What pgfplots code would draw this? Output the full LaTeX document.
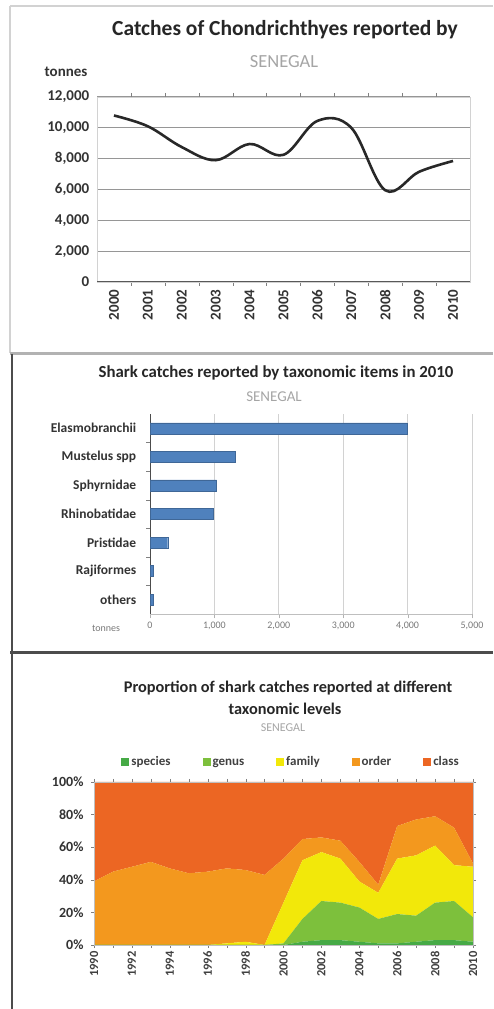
\documentclass[border=0pt]{standalone}
\usepackage{pgfplots}
\usepackage{pgfplotstable}
\pgfplotsset{compat=1.18}
\usepackage{fontspec}
\setmainfont{Carlito}
\definecolor{linec}{RGB}{40,40,40}
\definecolor{gridc}{RGB}{150,150,150}
\definecolor{barc}{RGB}{79,129,189}
\definecolor{cspecies}{RGB}{70,170,70}
\definecolor{cgenus}{RGB}{125,192,60}
\definecolor{cfamily}{RGB}{242,232,10}
\definecolor{corder}{RGB}{243,152,30}
\definecolor{cclass}{RGB}{236,102,35}
\definecolor{sengray}{RGB}{165,165,165}
\definecolor{tickgray}{RGB}{120,120,120}

\pgfplotstableread{
year val
2000 10800
2001 10100
2002 8750
2003 7900
2004 8950
2005 8250
2006 10450
2007 10000
2008 5950
2009 7150
2010 7850
}\catches

\pgfplotstableread{
idx val
0 3990
1 1320
2 1035
3 985
4 275
5 50
6 50
}\taxa

\pgfplotstableread{
year species genus family order class
1990 0 0 0 39 61
1991 0 0 0 45 55
1992 0 0 0 48 52
1993 0 0 0 51 49
1994 0 0 0 47 53
1995 0 0 0 44 56
1996 0 0 0 45 55
1997 0 0 1 46 53
1998 0 0 2 44 54
1999 0 0 0 43 57
2000 0 1 25 27 47
2001 2 14 36 13 35
2002 3 24 30 9 34
2003 3 23 27 11 36
2004 2 21 16 12 49
2005 1 15 16 5 63
2006 1 18 34 20 27
2007 2 16 37 22 23
2008 3 23 35 18 21
2009 3 24 22 23 28
2010 2 15 31 2 50
}\prop

\begin{document}
\begin{tikzpicture}
\useasboundingbox (0pt,0pt) rectangle (493pt,1009pt);
% panel frames
\draw[gray!35, line width=2pt] (10pt,1003pt) -- (493pt,1003pt);
\draw[gray!35, line width=2pt] (10pt,1003pt) -- (10pt,656pt);
\draw[gray!60, line width=3pt] (10pt,655pt) -- (493pt,655pt);
\draw[black!70, line width=2pt] (12pt,655pt) -- (12pt,356pt);
\draw[black!70, line width=3pt] (10pt,356pt) -- (493pt,356pt);
\draw[black!70, line width=2pt] (12pt,356pt) -- (12pt,0pt);

% ---------- Panel 1 ----------
\node[font=\fontsize{21.5}{21.5}\selectfont\bfseries, text=black!85] at (285pt,979pt) {Catches of Chondrichthyes reported by};
\node[font=\fontsize{18.5}{18.5}\selectfont, text=sengray] at (284pt,947pt) {SENEGAL};
\node[font=\fontsize{15}{15}\selectfont\bfseries, text=black!80] at (66pt,937pt) {tonnes};
\begin{axis}[
  at={(97pt,727pt)}, anchor=south west, scale only axis,
  width=373pt, height=185pt,
  xmin=1999.5, xmax=2010.5, ymin=0, ymax=12000,
  xtick={2000,...,2010},
  xticklabels={2000,2001,2002,2003,2004,2005,2006,2007,2008,2009,2010},
  major x tick style={draw=none},
  minor xtick={2000.5,2001.5,...,2009.5},
  minor tick length=4pt,
  tick align=outside,
  xticklabel style={rotate=90, anchor=east, font=\fontsize{15}{15}\selectfont\bfseries, text=black!80},
  ytick={0,2000,...,12000},
  major y tick style={draw=none},
  scaled y ticks=false,
  /pgf/number format/assume math mode=true,
  /pgf/number format/1000 sep={,},
  yticklabel style={font=\fontsize{15}{15}\selectfont\bfseries, text=black!80},
  ymajorgrids, grid style={gridc, line width=1pt},
  axis line style={draw=gray!35},
  clip=false,
]
\addplot[linec, line width=2.6pt, smooth, tension=0.6] table[x=year,y=val]{\catches};
\draw[gray!70!black, line width=1pt] (axis cs:1999.5,0) -- (axis cs:2010.5,0);
\end{axis}

% ---------- Panel 2 ----------
\node[font=\fontsize{16.8}{16.8}\selectfont\bfseries, text=black!85] at (276pt,636pt) {Shark catches reported by taxonomic items in 2010};
\node[font=\fontsize{15}{15}\selectfont, text=sengray] at (274pt,612pt) {SENEGAL};
\node[font=\fontsize{10}{10}\selectfont, text=tickgray] at (106pt,381pt) {tonnes};
\begin{axis}[
  at={(150pt,395pt)}, anchor=south west, scale only axis,
  width=322pt, height=200pt,
  xbar, bar width=11pt,
  xmin=0, xmax=5000, ymin=-0.5, ymax=6.5, y dir=reverse,
  ytick={0,...,6},
  yticklabels={Elasmobranchii, Mustelus spp, Sphyrnidae, Rhinobatidae, Pristidae, Rajiformes, others},
  yticklabel style={font=\fontsize{13.5}{13.5}\selectfont\bfseries, text=black!80, xshift=-6pt},
  major y tick style={draw=none},
  minor ytick={0.5,1.5,...,5.5},
  minor tick length=4pt,
  tick align=outside,
  xtick={0,1000,...,5000},
  scaled x ticks=false,
  /pgf/number format/assume math mode=true,
  /pgf/number format/1000 sep={,},
  xticklabel style={font=\fontsize{10}{10}\selectfont, text=tickgray},
  major x tick style={gray!60},
  xmajorgrids, grid style={gray!35, line width=0.8pt},
  axis x line*=bottom, axis y line*=left,
  x axis line style={draw=gray!50, -},
  y axis line style={draw=black!70, line width=1pt, -},
  clip=false,
]
\addplot[fill=barc, draw=barc!80!black] table[x=val,y=idx]{\taxa};
\end{axis}

% ---------- Panel 3 ----------
\node[font=\fontsize{16.3}{16.3}\selectfont\bfseries, text=black!85] at (288pt,321pt) {Proportion of shark catches reported at different};
\node[font=\fontsize{16.3}{16.3}\selectfont\bfseries, text=black!85] at (285pt,300pt) {taxonomic levels};
\node[font=\fontsize{12}{12}\selectfont, text=sengray] at (283pt,281pt) {SENEGAL};
\begin{axis}[
  at={(94pt,64pt)}, anchor=south west, scale only axis,
  width=379pt, height=163pt,
  stack plots=y, area style,
  xmin=1990, xmax=2010, ymin=0, ymax=100,
  xtick={1990,1992,...,2010},
  xticklabels={1990,1992,1994,1996,1998,2000,2002,2004,2006,2008,2010},
  minor xtick={1991,1993,...,2009},
  minor tick length=3pt,
  tick align=outside,
  major tick length=3pt,
  xticklabel style={rotate=90, anchor=east, font=\fontsize{12.5}{12.5}\selectfont\bfseries, text=black!75},
  ytick={0,20,...,100},
  yticklabels={0\%,20\%,40\%,60\%,80\%,100\%},
  yticklabel style={font=\fontsize{14}{14}\selectfont\bfseries, text=black!80, xshift=-4pt},
  axis line style={draw=gray!50},
  legend columns=5,
  legend image code/.code={\fill[#1] (0pt,-1pt) rectangle (8pt,7pt);},
  legend style={at={(0.52,1)}, anchor=south, yshift=10pt, draw=none, fill=none,
    font=\fontsize{13}{13}\selectfont\bfseries, text=black!75,
    nodes={text height=1.6ex, text depth=0.5ex, anchor=base west},
    /tikz/every even column/.append style={column sep=30pt}},
  legend cell align=left,
  clip=true,
]
\addplot[fill=cspecies, draw=none] table[x=year,y=species]{\prop} \closedcycle;
\addlegendentry{species}
\addplot[fill=cgenus, draw=none] table[x=year,y=genus]{\prop} \closedcycle;
\addlegendentry{genus}
\addplot[fill=cfamily, draw=none] table[x=year,y=family]{\prop} \closedcycle;
\addlegendentry{family}
\addplot[fill=corder, draw=none] table[x=year,y=order]{\prop} \closedcycle;
\addlegendentry{order}
\addplot[fill=cclass, draw=none] table[x=year,y=class]{\prop} \closedcycle;
\addlegendentry{class}
\end{axis}
\end{tikzpicture}
\end{document}
